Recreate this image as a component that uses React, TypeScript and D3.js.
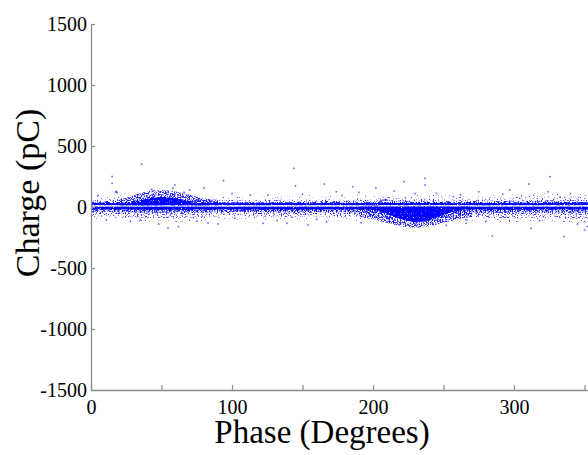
import React, { useEffect, useRef } from 'react';
import * as d3 from 'd3';

// phase-resolved PD pattern: charge (pC) vs phase (degrees)

const WIDTH = 588;
const HEIGHT = 455;

// envelopes of the background band, sampled every 20 degrees
const bandPhase = [0, 20, 40, 60, 80, 100, 120, 140, 160, 180, 200, 220, 240, 260, 280, 300, 320, 340, 360];
const fringeUpper = [95, 100, 110, 110, 95, 90, 88, 95, 98, 92, 98, 110, 104, 96, 100, 108, 110, 104, 98];
const fringeLower = [-105, -110, -120, -125, -112, -105, -110, -115, -108, -112, -120, -130, -120, -112, -118, -126, -120, -128, -135];
const haloUpper = [60, 62, 70, 72, 60, 58, 56, 60, 62, 58, 62, 70, 66, 62, 64, 70, 72, 66, 62];
const haloLower = [-72, -78, -88, -90, -80, -74, -78, -82, -76, -80, -86, -92, -85, -80, -84, -90, -86, -92, -98];
const innerUpper = [38, 40, 42, 44, 40, 38, 36, 38, 40, 38, 40, 44, 42, 40, 40, 44, 44, 42, 40];
const innerLower = [-40, -42, -46, -48, -44, -40, -42, -44, -42, -44, -46, -48, -46, -44, -46, -48, -46, -48, -50];
const upperBandTop = [32, 31, 32, 33, 32, 31, 32, 32, 31, 32, 33, 32, 32, 31, 32, 33, 32, 32, 31];
const upperBandBottom = [16, 16, 15, 16, 16, 16, 15, 16, 16, 16, 15, 16, 16, 16, 15, 16, 16, 16, 16];
const mainBandTop = [2, 2, 2, 2, 2, 2, 2, 2, 2, 2, 2, 2, 2, 2, 2, 2, 2, 2, 2];
const mainBandBottom = [-20, -21, -22, -22, -21, -20, -21, -22, -21, -20, -22, -22, -21, -20, -21, -22, -21, -20, -21];

// no pulses were recorded in this thin slot just above zero
const gapCharge = [3, 14];

// positive half-cycle cluster
const posPhase = [20, 25, 30, 35, 40, 45, 50, 55, 60, 65, 70, 75, 80, 85, 90];
const posCore = [14, 24, 38, 55, 68, 78, 82, 78, 72, 60, 45, 30, 20, 15, 14];
const posHalo = [60, 75, 95, 115, 128, 138, 140, 136, 128, 115, 100, 85, 72, 64, 60];

// negative half-cycle cluster
const negPhase = [190, 195, 200, 205, 210, 215, 220, 225, 230, 235, 240, 245, 250, 255, 260, 265, 270];
const negCore = [2, -8, -22, -35, -55, -78, -98, -115, -122, -118, -107, -88, -64, -46, -32, -18, 2];
const negHalo = [-80, -90, -100, -115, -130, -145, -158, -165, -168, -165, -158, -145, -130, -115, -100, -90, -85];

// isolated pulses [phase, charge]
const outliers: [number, number][] = [
  [36, 350], [15, 250], [15, 194], [17.5, 122], [18, 128], [18.5, 118], [43, 145], [58, 155],
  [59.5, 180], [80, 155], [70, 140], [54.6, -172], [11, -107], [83, -131], [62, -161], [35, -107],
  [144, 317], [94, 216], [165.5, 188], [174, 125], [145, 172], [102, -93], [90, -139], [154, -148],
  [167, -120], [122, -134], [139, -134], [125.5, 98], [113, 98], [222, 207], [237, 235], [237, 180],
  [185.6, 166], [202, 158], [191.5, -129], [266, -134], [245, -107], [257, 84], [245, 112],
  [207, 55], [208, 58], [209, 60], [210, 56], [206, 52],
  [325.5, 248], [310.6, 188], [275, 125], [297, 139], [324, 125], [284.6, -238], [335.5, -243],
  [312, -175], [350, -189], [350, -120], [266.5, -107], [304, 71], [332.6, 84],
  [5, 95], [28, -120], [48, -140], [66, 120], [75, -115], [100, 110], [132, -110], [150, 105],
  [160, -100], [178, 95], [190, 120], [215, 130], [230, 110], [252, -150], [262, 100], [280, -120],
  [292, 105], [318, -110], [340, 110], [345, -140], [355, 95], [357, -200], [352, -160]
];

const xTicks = [0, 50, 100, 150, 200, 250, 300, 350];
const xLabelled = [0, 100, 200, 300];
const yTicks = [-1500, -1000, -500, 0, 500, 1000, 1500];

const BLUE = '#0000ff';
const AXIS_GREY = '#8c8c8c';
const FONT = '"Liberation Serif", "Times New Roman", serif';

type Env = { phase: number; lo: number; hi: number };

const zipEnv = (phase: number[], lo: number[] | number, hi: number[] | number): Env[] =>
  phase.map((p, i) => ({
    phase: p,
    lo: Array.isArray(lo) ? lo[i] : lo,
    hi: Array.isArray(hi) ? hi[i] : hi,
  }));

const App = () => {
  const svgRef = useRef<SVGSVGElement>(null);

  useEffect(() => {
    const svg = d3.select(svgRef.current);
    svg.selectAll('*').remove();

    const x = d3.scaleLinear().domain([0, 360]).range([91, 598.6]);
    const y = d3.scaleLinear().domain([-1500, 1500]).range([390, 24]);

    // speckle filters: thresholded noise clipped to the shape, so dense
    // regions read as clouds of single pulses rather than flat fills
    const defs = svg.append('defs');
    const speckle = (id: string, seed: number, cut: number) => {
      const f = defs.append('filter')
        .attr('id', id)
        .attr('filterUnits', 'userSpaceOnUse')
        .attr('x', 0).attr('y', 0)
        .attr('width', WIDTH).attr('height', HEIGHT)
        .attr('color-interpolation-filters', 'sRGB');
      f.append('feTurbulence')
        .attr('type', 'fractalNoise')
        .attr('baseFrequency', 0.75)
        .attr('numOctaves', 1)
        .attr('seed', seed)
        .attr('result', 'noise');
      f.append('feColorMatrix')
        .attr('in', 'noise')
        .attr('type', 'matrix')
        .attr('values', `0 0 0 0 0  0 0 0 0 0  0 0 0 0 1  10 0 0 0 ${-cut * 10}`)
        .attr('result', 'dots');
      f.append('feComposite')
        .attr('in', 'dots')
        .attr('in2', 'SourceGraphic')
        .attr('operator', 'in');
    };
    speckle('faint', 31, 0.64);
    speckle('faint2', 37, 0.64);
    speckle('sparse', 3, 0.56);
    speckle('sparse2', 11, 0.56);
    speckle('medium', 5, 0.46);
    speckle('medium2', 17, 0.46);
    speckle('dense', 7, 0.3);
    speckle('dense2', 23, 0.26);

    const area = d3.area<Env>()
      .x(d => x(d.phase))
      .y0(d => y(d.lo))
      .y1(d => y(d.hi))
      .curve(d3.curveMonotoneX);

    const layers: { data: Env[]; filter: string; opacity: number }[] = [
      { data: zipEnv(bandPhase, gapCharge[1], fringeUpper), filter: 'faint', opacity: 0.7 },
      { data: zipEnv(bandPhase, fringeLower, gapCharge[0]), filter: 'faint2', opacity: 0.7 },
      { data: zipEnv(bandPhase, gapCharge[1], haloUpper), filter: 'sparse', opacity: 0.8 },
      { data: zipEnv(bandPhase, haloLower, gapCharge[0]), filter: 'sparse2', opacity: 0.8 },
      { data: zipEnv(posPhase, gapCharge[1], posHalo), filter: 'medium', opacity: 0.85 },
      { data: zipEnv(negPhase, negHalo, gapCharge[0]), filter: 'medium2', opacity: 0.85 },
      { data: zipEnv(bandPhase, gapCharge[1], innerUpper), filter: 'medium', opacity: 0.9 },
      { data: zipEnv(bandPhase, innerLower, gapCharge[0]), filter: 'medium2', opacity: 0.9 },
      { data: zipEnv(posPhase, gapCharge[1], posCore), filter: 'dense', opacity: 1 },
      { data: zipEnv(negPhase, negCore, gapCharge[0]), filter: 'dense2', opacity: 1 },
      { data: zipEnv(bandPhase, upperBandBottom, upperBandTop), filter: 'dense', opacity: 1 },
      { data: zipEnv(bandPhase, mainBandBottom, mainBandTop), filter: 'dense2', opacity: 1 },
    ];

    const plot = svg.append('g');
    layers.forEach(layer => {
      plot.append('path')
        .attr('d', area(layer.data))
        .attr('fill', BLUE)
        .attr('fill-opacity', layer.opacity)
        .attr('filter', `url(#${layer.filter})`);
    });

    plot.append('g')
      .selectAll('rect')
      .data(outliers)
      .join('rect')
      .attr('x', d => x(d[0]) - 0.8)
      .attr('y', d => y(d[1]) - 0.8)
      .attr('width', 1.6)
      .attr('height', 1.6)
      .attr('fill', BLUE)
      .attr('fill-opacity', 0.6);

    // axes, ticks pointing into the plot
    const xAxis = svg.append('g')
      .attr('transform', `translate(0,${y(-1500)})`)
      .call(d3.axisBottom(x)
        .tickValues(xTicks)
        .tickSizeInner(-5)
        .tickSizeOuter(0)
        .tickPadding(10)
        .tickFormat(d => String(d)));
    xAxis.selectAll<SVGTextElement, number>('.tick text')
      .filter(d => !xLabelled.includes(d))
      .remove();

    const yAxis = svg.append('g')
      .attr('transform', `translate(${x(0)},0)`)
      .call(d3.axisLeft(y)
        .tickValues(yTicks)
        .tickSizeInner(-4)
        .tickSizeOuter(0)
        .tickPadding(4)
        .tickFormat(d => String(d)));

    [xAxis, yAxis].forEach(ax => {
      ax.select('.domain').attr('stroke', AXIS_GREY).attr('stroke-width', 1.3);
      ax.selectAll('.tick line').attr('stroke', AXIS_GREY).attr('stroke-width', 1.2);
      ax.selectAll('.tick text')
        .attr('fill', '#000')
        .attr('font-family', FONT)
        .attr('font-size', 20);
    });

    svg.append('text')
      .attr('x', 322)
      .attr('y', 443)
      .attr('text-anchor', 'middle')
      .attr('font-family', FONT)
      .attr('font-size', 33)
      .text('Phase (Degrees)');

    svg.append('text')
      .attr('transform', 'translate(39,193) rotate(-90)')
      .attr('text-anchor', 'middle')
      .attr('font-family', FONT)
      .attr('font-size', 34)
      .text('Charge (pC)');
  });

  return (
    <svg
      ref={svgRef}
      width={WIDTH}
      height={HEIGHT}
      style={{ position: 'absolute', left: 0, top: 0, background: '#fff' }}
    />
  );
};

export default App;
